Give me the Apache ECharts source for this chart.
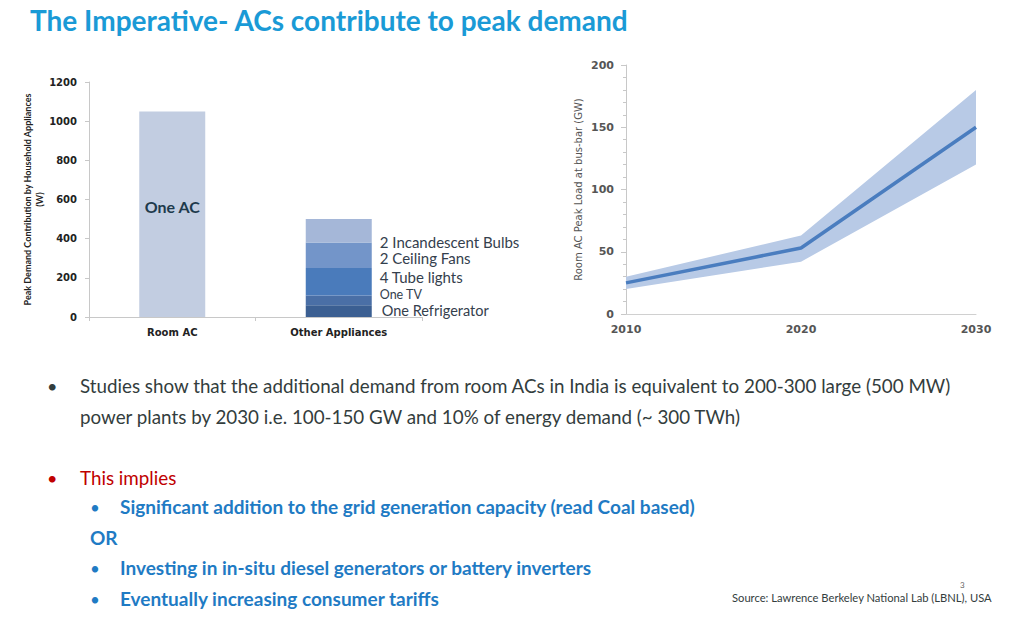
<!DOCTYPE html>
<html><head><meta charset="utf-8">
<script src="https://cdn.jsdelivr.net/npm/echarts@6/dist/echarts.min.js"></script>
<style>html,body{margin:0;padding:0;background:#fff}#c{width:1024px;height:622px}</style>
</head><body><div id="c"></div>
<script>
// ---- data ----
const barCategories = ['Room AC', 'Other Appliances'];
const roomAC = 1050;
const applianceNames = ['One Refrigerator', 'One TV', '4 Tube lights', '2 Ceiling Fans', '2 Incandescent Bulbs'];
const applianceValues = [60, 50, 140, 130, 120];

const years = ['2010', '2020', '2030'];
const peakLoad = [25, 53, 150];
const peakLow = [20, 42, 120];
const peakHigh = [30, 63, 180];

// ---- styles ----
const segColors = ['#3b5f92', '#4a6fa6', '#4a7bbb', '#7395c9', '#a5b7d8'];
const segLabelOffsets = [[1, -1], [-1, -6], [-1, -5], [-1, 3], [-1, 11]];
const segLabelSizes = [14.5, 12.5, 15, 15, 15];
const FONT = 'Lato, "Open Sans", sans-serif';
const AXFONT = '"DejaVu Sans", Verdana, sans-serif';

const applianceSeries = applianceNames.map((n, i) => ({
  name: n, type: 'bar', stack: 'app', xAxisIndex: 0, yAxisIndex: 0,
  barWidth: 66,
  data: ['-', applianceValues[i]],
  itemStyle: { color: segColors[i] },
  label: { show: true, position: 'right', distance: 9, offset: segLabelOffsets[i],
    formatter: n, color: '#34404d', fontSize: segLabelSizes[i], lineHeight: segLabelSizes[i] - 2,
    fontFamily: FONT }
}));

const chart = echarts.init(document.getElementById('c'), null, { renderer: 'svg' });
chart.setOption({
  animation: false,
  grid: [
    { left: 89, right: 602, top: 82, bottom: 305 },
    { left: 626, right: 48, top: 65, bottom: 308 }
  ],
  xAxis: [
    { type: 'category', gridIndex: 0, data: barCategories,
      axisLine: { lineStyle: { color: '#c8c8c8' } },
      axisTick: { show: true, length: 4, lineStyle: { color: '#c8c8c8' } },
      axisLabel: { color: '#222', fontWeight: 'bold', fontSize: 10, fontFamily: AXFONT, margin: 10 } },
    { type: 'category', gridIndex: 1, data: years, boundaryGap: false,
      axisLine: { show: true, lineStyle: { color: '#d0d0d0' } },
      axisTick: { show: false }, splitLine: { show: false },
      axisLabel: { color: '#555', fontWeight: 'bold', fontSize: 11, fontFamily: AXFONT, margin: 10 } }
  ],
  yAxis: [
    { type: 'value', gridIndex: 0, min: 0, max: 1200, interval: 200,
      name: 'Peak Demand Contribution by Household Appliances\n(W)',
      nameLocation: 'middle', nameGap: 34, nameRotate: 90,
      nameTextStyle: { fontSize: 9, fontWeight: 'bold', color: '#222', fontFamily: FONT, lineHeight: 12 },
      axisLine: { show: true, lineStyle: { color: '#c8c8c8' } },
      axisTick: { show: true, length: 4, lineStyle: { color: '#c8c8c8' } },
      splitLine: { show: false },
      axisLabel: { color: '#222', fontWeight: 'bold', fontSize: 10, fontFamily: AXFONT, margin: 12,
        formatter: v => String(v) } },
    { type: 'value', gridIndex: 1, min: 0, max: 200, interval: 50,
      name: 'Room AC Peak Load at bus-bar (GW)',
      nameLocation: 'middle', nameGap: 43, nameRotate: 90,
      nameTextStyle: { fontSize: 10, color: '#555', fontFamily: AXFONT },
      axisLine: { show: true, lineStyle: { color: '#c8c8c8' } },
      axisTick: { show: true, length: 5, lineStyle: { color: '#c8c8c8' } },
      minorTick: { show: true, splitNumber: 5, length: 3, lineStyle: { color: '#c8c8c8' } },
      splitLine: { show: false },
      axisLabel: { color: '#555', fontWeight: 'bold', fontSize: 11, fontFamily: AXFONT, margin: 12 } }
  ],
  series: [
    { name: 'Room AC', type: 'bar', stack: 'app', xAxisIndex: 0, yAxisIndex: 0, barWidth: 66,
      data: [roomAC, '-'], itemStyle: { color: '#c2cde1' },
      label: { show: true, position: 'inside', offset: [0, -8], formatter: 'One AC',
        color: '#1e3a4c', fontSize: 16, fontWeight: 'bold', fontFamily: FONT } },
    ...applianceSeries,
    { name: 'low', type: 'line', xAxisIndex: 1, yAxisIndex: 1, stack: 'band', symbol: 'none',
      data: peakLow, lineStyle: { opacity: 0 } },
    { name: 'band', type: 'line', xAxisIndex: 1, yAxisIndex: 1, stack: 'band', symbol: 'none',
      data: peakHigh.map((h, i) => h - peakLow[i]), lineStyle: { opacity: 0 },
      areaStyle: { color: '#b8cae6', opacity: 1 } },
    { name: 'load', type: 'line', xAxisIndex: 1, yAxisIndex: 1, symbol: 'none',
      data: peakLoad, lineStyle: { color: '#4a7dbf', width: 3.5 } }
  ],
  graphic: [
    { type: 'text', left: 30, top: 6, style: { text: 'The Imperative- ACs contribute to peak demand',
      fill: '#1a9ad6', font: 'bold 28px ' + FONT } },
    { type: 'text', left: 47, top: 377, style: { text: '•', fill: '#333d3d', font: '18px ' + FONT } },
    { type: 'text', left: 80, top: 376, style: { text: 'Studies show that the additional demand from room ACs in India is equivalent to 200-300 large (500 MW)',
      fill: '#333d3d', font: '18.8px ' + FONT } },
    { type: 'text', left: 80, top: 407, style: { text: 'power plants by 2030 i.e. 100-150 GW and 10% of energy demand (~ 300 TWh)',
      fill: '#333d3d', font: '18.8px ' + FONT } },
    { type: 'text', left: 47, top: 469, style: { text: '•', fill: '#c00000', font: '18px ' + FONT } },
    { type: 'text', left: 80, top: 468, style: { text: 'This implies', fill: '#c00000', font: '18.8px ' + FONT } },
    { type: 'text', left: 90, top: 499, style: { text: '•', fill: '#1f7bc4', font: '17px ' + FONT } },
    { type: 'text', left: 120, top: 497, style: { text: 'Significant addition to the grid generation capacity (read Coal based)',
      fill: '#1f7bc4', font: 'bold 19px ' + FONT } },
    { type: 'text', left: 90, top: 528, style: { text: 'OR', fill: '#1f7bc4', font: 'bold 19px ' + FONT } },
    { type: 'text', left: 90, top: 560, style: { text: '•', fill: '#1f7bc4', font: '17px ' + FONT } },
    { type: 'text', left: 120, top: 558, style: { text: 'Investing in in-situ diesel generators or battery inverters',
      fill: '#1f7bc4', font: 'bold 19px ' + FONT } },
    { type: 'text', left: 90, top: 591, style: { text: '•', fill: '#1f7bc4', font: '17px ' + FONT } },
    { type: 'text', left: 120, top: 589, style: { text: 'Eventually increasing consumer tariffs',
      fill: '#1f7bc4', font: 'bold 19px ' + FONT } },
    { type: 'text', left: 960, top: 581, style: { text: '3', fill: '#666', font: '8px ' + FONT } },
    { type: 'text', left: 732, top: 592, style: { text: 'Source: Lawrence Berkeley National Lab (LBNL), USA',
      fill: '#333d3d', font: '11.2px ' + FONT } }
  ]
});
</script></body></html>
